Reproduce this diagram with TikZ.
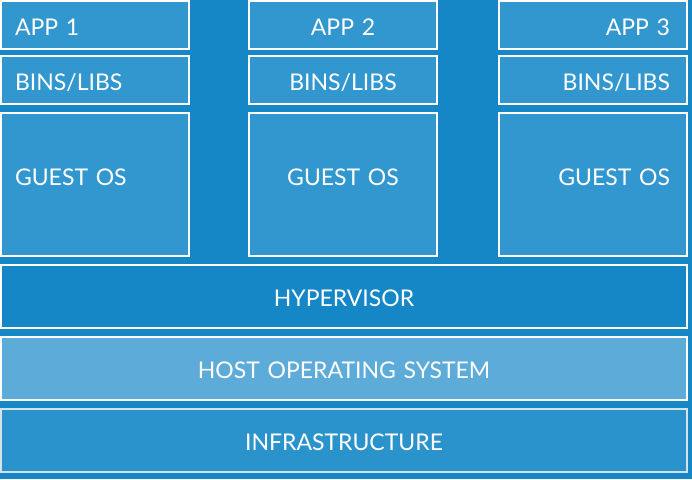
\documentclass[tikz,border=0pt]{standalone}
\usepackage{fontspec}
\setmainfont{Lato}
\definecolor{vmback}{HTML}{1587C7}
\definecolor{vmblue}{HTML}{3296CF}
\definecolor{vmhyper}{HTML}{1587C7}
\definecolor{vmhost}{HTML}{5CABD9}
\definecolor{vminfra}{HTML}{2B93CC}
\definecolor{vmedge}{HTML}{D6E2EA}
\usetikzlibrary{positioning}

\begin{document}
\begin{tikzpicture}[x=1pt,y=-1pt,
    layer/.style={draw=white,line width=1.1pt,fill=vmblue,text=white,
                  font=\fontsize{23}{26}\selectfont,inner sep=0pt,
                  text height=20.5pt,text depth=0pt},
    leftcol/.style={layer,minimum width=188,text width=160,align=left},
    midcol/.style={layer,minimum width=188,text width=160,align=center},
    rightcol/.style={layer,minimum width=188,text width=154,align=right},
    wide/.style={layer,minimum width=686,minimum height=63,text width=600,align=center}]
  \fill[vmback] (0,0) rectangle (692,479);
  \useasboundingbox (0,0) rectangle (692,479);

  % guest stacks
  \node[leftcol,minimum height=48]  (app1)   at (95,25)  {APP 1};
  \node[leftcol,minimum height=48]  (bins1)  at (95,80)  {BINS/LIBS};
  \node[leftcol,minimum height=143,text depth=19pt] (guest1) at (95,184.5) {GUEST OS};

  \node[midcol,minimum height=48]   (app2)   at (343,25)  {APP 2};
  \node[midcol,minimum height=48]   (bins2)  at (343,80)  {BINS/LIBS};
  \node[midcol,minimum height=143,text depth=19pt] (guest2) at (343,184.5) {GUEST OS};

  \node[rightcol,minimum height=48] (app3)   at (593,25)  {APP 3};
  \node[rightcol,minimum height=48] (bins3)  at (593,80)  {BINS/LIBS};
  \node[rightcol,minimum height=143,text depth=19pt] (guest3) at (593,184.5) {GUEST OS};

  % shared layers
  \node[wide,fill=vmhyper] (hyper) at (344,296.5) {HYPERVISOR};
  \node[wide,fill=vmhost]  (host)  at (344,368.5) {HOST OPERATING SYSTEM};
  \node[wide,fill=vminfra,draw=vmedge] (infra) at (344,440.5) {INFRASTRUCTURE};
\end{tikzpicture}
\end{document}
